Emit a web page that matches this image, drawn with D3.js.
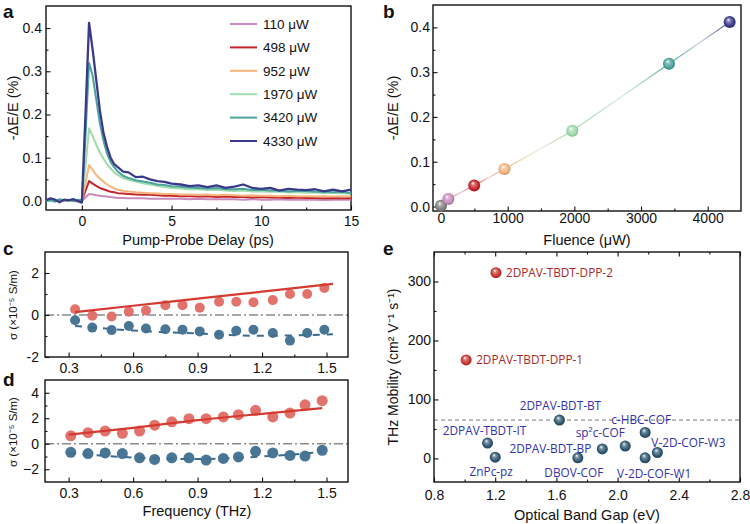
<!DOCTYPE html>
<html>
<head>
<meta charset="utf-8">
<script src="https://cdn.jsdelivr.net/npm/d3@7"></script>
<style>
  body { margin: 0; background: #fff; }
  svg { display: block; }
  text { font-family: "Liberation Sans", Arial, sans-serif; fill: #111; }
</style>
</head>
<body>
<svg id="fig" width="750" height="524"></svg>
<script>
// ---- panel a: transient traces ----
const delay = [-2, -1.75, -1.5, -1.25, -1, -0.75, -0.5, -0.25, 0,
  0.2, 0.4, 0.6, 0.8, 1.0, 1.2, 1.4, 1.6, 1.8, 2.0,
  2.3, 2.6, 3.0, 3.4, 3.8, 4.2, 4.6, 5.0,
  5.5, 6, 6.5, 7, 7.5, 8, 8.5, 9, 9.5, 10, 10.5, 11, 11.5, 12, 12.5, 13, 13.5, 14, 14.5, 15]
const powers = ["110 μW", "498 μW", "952 μW", "1970 μW", "3420 μW", "4330 μW"]
const powerColors = ["#c98bbd", "#c4242b", "#f5b57c", "#9fdbac", "#4aa39b", "#3a3a8a"]
const p110 = [0.0, 0.001, 0.0, 0.0, 0.001, 0.0, 0.0, 0.001, 0.0,
  0.008, 0.016, 0.015, 0.013, 0.012, 0.011, 0.01, 0.009, 0.008, 0.007,
  0.007, 0.006, 0.006, 0.006, 0.005, 0.005, 0.005, 0.005,
  0.005, 0.004, 0.005, 0.004, 0.004, 0.004, 0.004, 0.003, 0.004, 0.003, 0.003, 0.004, 0.003, 0.003, 0.003, 0.003, 0.002, 0.003, 0.003, 0.003]
const p498 = [0.001, 0.0, 0.001, -0.001, 0.0, 0.001, 0.0, -0.001, 0.0,
  0.023, 0.046, 0.04, 0.035, 0.03, 0.027, 0.024, 0.021, 0.02, 0.018,
  0.017, 0.016, 0.015, 0.014, 0.014, 0.013, 0.012, 0.012,
  0.011, 0.011, 0.01, 0.011, 0.009, 0.01, 0.009, 0.009, 0.008, 0.009, 0.008, 0.008, 0.007, 0.008, 0.007, 0.007, 0.006, 0.007, 0.006, 0.006]
const p952 = [0.0, 0.001, -0.001, 0.002, 0.0, 0.001, -0.001, 0.001, 0.0,
  0.04, 0.083, 0.072, 0.06, 0.052, 0.045, 0.038, 0.033, 0.029, 0.026,
  0.023, 0.022, 0.02, 0.019, 0.018, 0.017, 0.016, 0.016,
  0.015, 0.015, 0.014, 0.015, 0.013, 0.014, 0.013, 0.012, 0.013, 0.012, 0.012, 0.011, 0.012, 0.011, 0.011, 0.01, 0.011, 0.01, 0.01, 0.011]
const p1970 = [0.001, -0.001, 0.003, 0.0, 0.002, -0.001, 0.002, 0.001, 0.0,
  0.08, 0.168, 0.15, 0.13, 0.112, 0.098, 0.085, 0.075, 0.066, 0.06,
  0.053, 0.049, 0.045, 0.041, 0.038, 0.035, 0.032, 0.03,
  0.029, 0.027, 0.027, 0.025, 0.026, 0.024, 0.023, 0.024, 0.022, 0.022, 0.021, 0.021, 0.02, 0.02, 0.019, 0.02, 0.018, 0.019, 0.018, 0.017]
const p3420 = [0.0, 0.002, -0.002, 0.004, 0.001, 0.003, 0.0, 0.003, 0.002,
  0.15, 0.319, 0.29, 0.235, 0.18, 0.14, 0.11, 0.09, 0.078, 0.068,
  0.058, 0.053, 0.048, 0.045, 0.042, 0.038, 0.037, 0.034,
  0.033, 0.031, 0.03, 0.029, 0.03, 0.027, 0.027, 0.028, 0.025, 0.026, 0.024, 0.024, 0.022, 0.023, 0.023, 0.021, 0.022, 0.02, 0.021, 0.018]
const p4330 = [0.002, 0.006, 0.003, -0.003, 0.003, 0.001, 0.004, 0.0, -0.004,
  0.2, 0.412, 0.35, 0.28, 0.21, 0.158, 0.125, 0.1, 0.085, 0.078,
  0.068, 0.066, 0.055, 0.056, 0.05, 0.046, 0.044, 0.04,
  0.038, 0.034, 0.036, 0.032, 0.036, 0.03, 0.033, 0.038, 0.03, 0.028, 0.03, 0.024, 0.028, 0.026, 0.025, 0.027, 0.022, 0.026, 0.022, 0.026]
const traces = [p110, p498, p952, p1970, p3420, p4330]

// ---- panel b: peak vs fluence ----
const fluence = [0, 110, 498, 952, 1970, 3420, 4330]
const peak = [0.002, 0.017, 0.047, 0.084, 0.169, 0.319, 0.412]
const fluenceColors = ["#7f7f7f", "#c98bbd", "#c4242b", "#f5b57c", "#9fdbac", "#4aa39b", "#3a3a8a"]

// ---- panels c, d: conductivity spectra ----
const cFreq = [0.33, 0.41, 0.50, 0.58, 0.66, 0.75, 0.83, 0.91, 1.00, 1.08, 1.16, 1.25, 1.33, 1.41, 1.49]
const cReal = [0.27, -0.03, -0.07, 0.16, 0.22, 0.47, 0.47, 0.35, 0.63, 0.63, 0.61, 0.71, 1.0, 1.0, 1.29]
const cImag = [-0.25, -0.60, -0.72, -0.52, -0.64, -0.68, -0.70, -0.78, -0.94, -0.75, -0.70, -0.86, -1.22, -0.86, -0.70]
const cFitFreq = [0.33, 0.6, 0.9, 1.2, 1.53]
const cFitReal = [0.14, 0.44, 0.78, 1.11, 1.48]
const cFitImag = [-0.52, -0.74, -0.88, -0.99, -0.92]

const dFreq = [0.31, 0.39, 0.47, 0.55, 0.63, 0.70, 0.78, 0.86, 0.94, 1.02, 1.09, 1.17, 1.25, 1.33, 1.40, 1.48]
const dReal = [0.62, 0.87, 1.0, 0.82, 1.0, 1.46, 1.72, 1.97, 1.97, 2.10, 2.28, 2.62, 2.10, 2.41, 3.05, 3.38]
const dImag = [-0.67, -0.77, -0.72, -0.77, -1.1, -1.23, -1.1, -1.1, -1.28, -1.15, -1.03, -0.59, -0.72, -0.92, -0.97, -0.51]
const dFitFreq = [0.3, 0.6, 0.9, 1.2, 1.48]
const dFitReal = [0.72, 1.25, 1.85, 2.35, 2.79]
const dFitImag = [-0.75, -1.08, -1.2, -1.0, -0.65]

// ---- panel e: mobility vs band gap ----
const eNames = ["2DPAV-TBDT-DPP-2", "2DPAV-TBDT-DPP-1", "2DPAV-BDT-BT", "c-HBC-COF", "2DPAV-TBDT-IT",
  "sp²c-COF", "2DPAV-BDT-BP", "V-2D-COF-W3", "ZnPc-pz", "DBOV-COF", "V-2D-COF-W1"]
const eGap = [1.205, 1.01, 1.62, 2.18, 1.15, 2.05, 1.90, 2.26, 1.20, 1.74, 2.18]
const eMob = [315, 167, 65, 44, 26, 21, 16, 10, 2, 1, 1]
const eOurs = [true, true, false, false, false, false, false, false, false, false, false]
const eRef = 65

// label placement for panel e: [anchor, dx, dy]
const eLabelPlace = [["start", 10, 0], ["start", 10, 0], ["middle", 1, -14], ["middle", -4, -12.5],
  ["middle", -3, -12.5], ["middle", -25, -13], ["end", -11, 0], ["middle", 31, -10],
  ["middle", -4, 15], ["middle", -4, 15], ["middle", 9, 15.5]]

const svg = d3.select("#fig")
const defs = svg.append("defs")

function sphere(id, color) {
  const gr = defs.append("radialGradient").attr("id", id)
    .attr("cx", "50%").attr("cy", "50%").attr("r", "55%").attr("fx", "38%").attr("fy", "30%")
  gr.append("stop").attr("offset", "0%").attr("stop-color", "#fff")
  gr.append("stop").attr("offset", "28%").attr("stop-color", d3.interpolateRgb(color, "#fff")(0.35))
  gr.append("stop").attr("offset", "72%").attr("stop-color", color)
  gr.append("stop").attr("offset", "100%").attr("stop-color", d3.color(color).darker(0.9))
  return `url(#${id})`
}

function frame(g, x, y, o) {
  const [xl, xr] = x.range()
  const [yb, yt] = y.range()
  const strip = (s) => s.select(".domain").remove()
  const styleText = (s) => s.selectAll("text").attr("font-size", o.fs || 14).attr("fill", "#111")
  const tickStroke = (s) => s.selectAll("line").attr("stroke", "#111").attr("stroke-width", 1.1)

  g.append("g").attr("transform", `translate(0,${yb})`)
    .call(d3.axisBottom(x).tickValues(o.xMinor).tickSize(-2.5).tickFormat(""))
    .call(strip).call(tickStroke)
  g.append("g").attr("transform", `translate(0,${yb})`)
    .call(d3.axisBottom(x).tickValues(o.xMajor).tickSize(-4.5).tickPadding(o.xPad).tickFormat(o.xFmt))
    .call(strip).call(tickStroke).call(styleText)
  g.append("g").attr("transform", `translate(${xl},0)`)
    .call(d3.axisLeft(y).tickValues(o.yMinor).tickSize(-2.5).tickFormat(""))
    .call(strip).call(tickStroke)
  g.append("g").attr("transform", `translate(${xl},0)`)
    .call(d3.axisLeft(y).tickValues(o.yMajor).tickSize(-4.5).tickPadding(o.yPad).tickFormat(o.yFmt))
    .call(strip).call(tickStroke).call(styleText)
  if (o.top) {
    g.append("g").attr("transform", `translate(0,${yt})`)
      .call(d3.axisTop(x).tickValues(o.xMinor).tickSize(-2.5).tickFormat(""))
      .call(strip).call(tickStroke)
    g.append("g").attr("transform", `translate(0,${yt})`)
      .call(d3.axisTop(x).tickValues(o.xMajor).tickSize(-4.5).tickFormat(""))
      .call(strip).call(tickStroke)
  }
  g.append("rect").attr("x", xl).attr("y", yt).attr("width", xr - xl).attr("height", yb - yt)
    .attr("fill", "none").attr("stroke", "#111").attr("stroke-width", 1.4)
}

function letter(t, x, y) {
  svg.append("text").attr("x", x).attr("y", y).attr("font-size", 19).attr("font-weight", "bold").text(t)
}

function ytitle(t, x, y, fs) {
  svg.append("text").attr("transform", `translate(${x},${y}) rotate(-90)`)
    .attr("text-anchor", "middle").attr("dy", "0.35em").attr("font-size", fs).text(t)
}

function xtitle(t, x, y, fs) {
  svg.append("text").attr("x", x).attr("y", y).attr("text-anchor", "middle").attr("font-size", fs).text(t)
}

const range = (a, b, s) => d3.range(a, b + s / 2, s)
const f1 = d3.format(".1f")
const hyph = (v) => String(v).replace("−", "-")

// ===== panel a =====
const xa = d3.scaleLinear().domain([-2, 15]).range([46, 351])
const ya = d3.scaleLinear().domain([-0.021, 0.451]).range([210, 6])
const ga = svg.append("g")
frame(ga, xa, ya, {
  xMajor: [0, 5, 10, 15], xMinor: [2.5, 7.5, 12.5], xFmt: d3.format("d"), xPad: 6,
  yMajor: range(0, 0.4, 0.1), yMinor: [0.05, 0.15, 0.25, 0.35], yFmt: f1, yPad: 4,
})
const lineA = d3.line().x((d, i) => xa(delay[i])).y(d => ya(d))
ga.append("g").selectAll("path").data(traces).join("path")
  .attr("d", lineA).attr("fill", "none")
  .attr("stroke", (d, i) => powerColors[i]).attr("stroke-width", (d, i) => i === 5 ? 2.3 : 2)
  .attr("stroke-linejoin", "round")

const leg = ga.append("g").selectAll("g").data(powers).join("g")
  .attr("transform", (d, i) => `translate(230,${24 + i * 23.4})`)
leg.append("line").attr("x1", 0).attr("x2", 27).attr("stroke", (d, i) => powerColors[i]).attr("stroke-width", 2)
leg.append("text").attr("x", 33).attr("dy", "0.36em").attr("font-size", 13.5).text(d => d)

letter("a", 3, 18)
ytitle("-ΔE/E (%)", 13, 108, 14.5)
xtitle("Pump-Probe Delay (ps)", 198, 245, 14.5)

// ===== panel b =====
const xb = d3.scaleLinear().domain([-120, 4500]).range([433, 741])
const yb = d3.scaleLinear().domain([-0.01, 0.45]).range([211, 5])
const gb = svg.append("g")
frame(gb, xb, yb, {
  xMajor: range(0, 4000, 1000), xMinor: [500, 1500, 2500, 3500], xFmt: d3.format("d"), xPad: 2.5,
  yMajor: range(0, 0.4, 0.1), yMinor: [0.05, 0.15, 0.25, 0.35], yFmt: f1, yPad: 3,
})
const bPts = fluence.map((f, i) => ({x: xb(f), y: yb(peak[i]), c: fluenceColors[i]}))
d3.pairs(bPts).forEach(([p, q], i) => {
  const lg = defs.append("linearGradient").attr("id", `bseg${i}`).attr("gradientUnits", "userSpaceOnUse")
    .attr("x1", p.x).attr("y1", p.y).attr("x2", q.x).attr("y2", q.y)
  lg.append("stop").attr("offset", "0%").attr("stop-color", p.c).attr("stop-opacity", 0.9)
  lg.append("stop").attr("offset", "50%").attr("stop-color", d3.interpolateRgb(p.c, q.c)(0.5)).attr("stop-opacity", 0.3)
  lg.append("stop").attr("offset", "100%").attr("stop-color", q.c).attr("stop-opacity", 0.9)
  gb.append("line").attr("x1", p.x).attr("y1", p.y).attr("x2", q.x).attr("y2", q.y)
    .attr("stroke", `url(#bseg${i})`).attr("stroke-width", 1.3)
})
gb.append("g").selectAll("circle").data(fluence).join("circle")
  .attr("cx", d => xb(d)).attr("cy", (d, i) => yb(peak[i])).attr("r", 6)
  .attr("fill", (d, i) => sphere(`bs${i}`, fluenceColors[i]))

letter("b", 383, 18)
ytitle("-ΔE/E (%)", 393, 108, 14.5)
xtitle("Fluence (μW)", 587, 245, 14.5)

// ===== panels c and d =====
const red = "#df6760", redLine = "#d53a30", blue = "#3f6f8f", blueLine = "#3b6b8e"

function spectrum(g, x, y, freq, re, im, fitF, fitRe, fitIm, r) {
  g.append("line").attr("x1", x.range()[0]).attr("x2", x.range()[1]).attr("y1", y(0)).attr("y2", y(0))
    .attr("stroke", "#8a8a8a").attr("stroke-width", 1.6).attr("stroke-dasharray", "9,3,2,3")
  const fit = d3.line().x((d, i) => x(fitF[i])).y(d => y(d)).curve(d3.curveMonotoneX)
  g.append("path").datum(fitIm).attr("d", fit).attr("fill", "none")
    .attr("stroke", blueLine).attr("stroke-width", 2).attr("stroke-dasharray", "7,7")
  g.append("g").selectAll("circle").data(re).join("circle")
    .attr("cx", (d, i) => x(freq[i])).attr("cy", d => y(d)).attr("r", r).attr("fill", red).attr("fill-opacity", 0.92)
  g.append("g").selectAll("circle").data(im).join("circle")
    .attr("cx", (d, i) => x(freq[i])).attr("cy", d => y(d)).attr("r", r).attr("fill", blue).attr("fill-opacity", 0.95)
  g.append("path").datum(fitRe).attr("d", fit).attr("fill", "none")
    .attr("stroke", redLine).attr("stroke-width", 2.2)
}

const xc = d3.scaleLinear().domain([0.19, 1.6]).range([45, 348])
const yc = d3.scaleLinear().domain([-2, 3]).range([357, 252])
const gc = svg.append("g")
spectrum(gc, xc, yc, cFreq, cReal, cImag, cFitFreq, cFitReal, cFitImag, 5)
frame(gc, xc, yc, {
  xMajor: [0.3, 0.6, 0.9, 1.2, 1.5], xMinor: [0.45, 0.75, 1.05, 1.35], xFmt: f1, xPad: 6.5,
  yMajor: [-2, 0, 2], yMinor: [-1, 1], yFmt: hyph, yPad: 6,
})
letter("c", 3, 255)
ytitle("σ (×10⁻⁵ S/m)", 13, 305, 11.5)

const xd = d3.scaleLinear().domain([0.19, 1.6]).range([45, 348])
const yd = d3.scaleLinear().domain([-3, 5]).range([482, 380])
const gd = svg.append("g")
spectrum(gd, xd, yd, dFreq, dReal, dImag, dFitFreq, dFitReal, dFitImag, 5.5)
frame(gd, xd, yd, {
  xMajor: [0.3, 0.6, 0.9, 1.2, 1.5], xMinor: [0.45, 0.75, 1.05, 1.35], xFmt: f1, xPad: 6,
  yMajor: [-2, 0, 2, 4], yMinor: [-1, 1, 3], yFmt: d3.format("d"), yPad: 6,
})
letter("d", 3, 386)
ytitle("σ (×10⁻⁵ S/m)", 13, 432, 11.5)
xtitle("Frequency (THz)", 197, 516, 14.5)

// ===== panel e =====
const xe = d3.scaleLinear().domain([0.8, 2.8]).range([434, 740])
const ye = d3.scaleLinear().domain([-40, 350]).range([482, 252])
const ge = svg.append("g")
ge.append("line").attr("x1", xe.range()[0]).attr("x2", xe.range()[1]).attr("y1", ye(eRef)).attr("y2", ye(eRef))
  .attr("stroke", "#777").attr("stroke-width", 1).attr("stroke-dasharray", "4,3")
ge.append("g").selectAll("circle").data(eGap).join("circle")
  .attr("cx", d => xe(d)).attr("cy", (d, i) => ye(eMob[i])).attr("r", 5.5)
  .attr("fill", (d, i) => eOurs[i] ? sphere(`er${i}`, "#c9332e") : sphere(`eb${i}`, "#2d5670"))
ge.append("g").selectAll("text").data(eNames).join("text")
  .attr("x", (d, i) => xe(eGap[i]) + eLabelPlace[i][1])
  .attr("y", (d, i) => ye(eMob[i]) + eLabelPlace[i][2])
  .attr("text-anchor", (d, i) => eLabelPlace[i][0])
  .attr("dy", "0.36em")
  .style("font-family", "'Open Sans', 'Noto Sans', sans-serif")
  .attr("font-size", 11.8)
  .style("fill", (d, i) => eOurs[i] ? "#a52a2a" : "#3232aa")
  .text(d => d)
frame(ge, xe, ye, {
  xMajor: range(0.8, 2.8, 0.4), xMinor: range(1.0, 2.6, 0.4), xFmt: f1, xPad: 8,
  yMajor: [0, 100, 200, 300], yMinor: [50, 150, 250], yFmt: d3.format("d"), yPad: 3,
  top: true,
})
letter("e", 383, 255)
ytitle("THz Mobility (cm² V⁻¹ s⁻¹)", 393, 367, 14)
xtitle("Optical Band Gap (eV)", 587, 520, 14.5)
</script>
</body>
</html>
